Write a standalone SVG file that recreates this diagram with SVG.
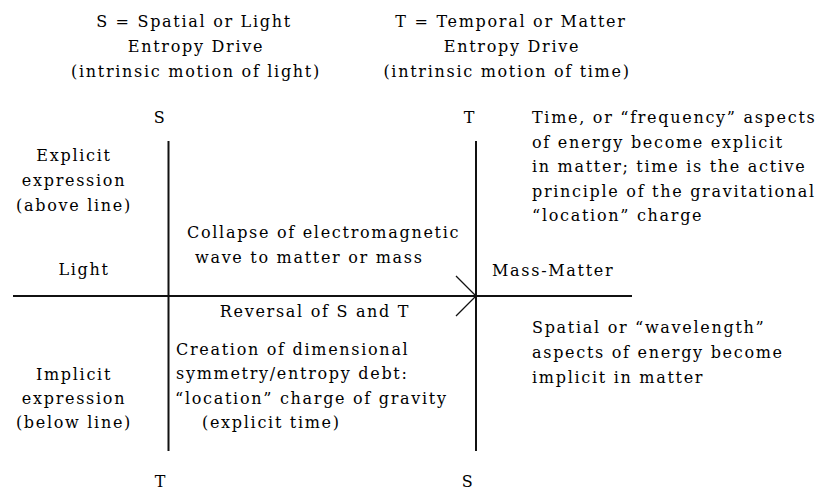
<svg xmlns="http://www.w3.org/2000/svg" width="832" height="491" viewBox="0 0 832 491">
<style>
text{font-family:"DejaVu Serif","Liberation Serif",serif;font-size:16px;letter-spacing:1.7px;fill:#000}
.m{text-anchor:middle}
.ax{stroke:#111;stroke-width:2;fill:none}
.ar{stroke:#111;stroke-width:1.3;fill:none}
</style>
<rect width="832" height="491" fill="#fff"/>
<g id="connectors">
<line class="ax" x1="13" y1="296" x2="632" y2="296"/>
<line class="ax" x1="168.5" y1="141" x2="168.5" y2="451"/>
<line class="ax" x1="476" y1="141" x2="476" y2="451"/>
<polyline class="ar" points="456,276 476,296 456,316"/>
</g>
<g id="header-s">
<text class="m" x="194" y="27">S = Spatial or Light</text>
<text class="m" x="196" y="52">Entropy Drive</text>
<text class="m" x="196" y="77">(intrinsic motion of light)</text>
</g>
<g id="header-t">
<text class="m" x="511" y="27">T = Temporal or Matter</text>
<text class="m" x="512" y="52">Entropy Drive</text>
<text class="m" x="507" y="77">(intrinsic motion of time)</text>
</g>
<g id="label-s-top"><text class="m" x="160" y="123">S</text></g>
<g id="label-t-top"><text class="m" x="470" y="123">T</text></g>
<g id="label-t-bottom"><text class="m" x="161" y="487">T</text></g>
<g id="label-s-bottom"><text class="m" x="468" y="487">S</text></g>
<g id="explicit">
<text class="m" x="74" y="161">Explicit</text>
<text class="m" x="74" y="186">expression</text>
<text class="m" x="74" y="211">(above line)</text>
</g>
<g id="light"><text class="m" x="84" y="275">Light</text></g>
<g id="implicit">
<text class="m" x="74" y="380">Implicit</text>
<text class="m" x="74" y="404">expression</text>
<text class="m" x="74" y="428">(below line)</text>
</g>
<g id="collapse">
<text x="187" y="238">Collapse of electromagnetic</text>
<text x="195" y="263">wave to matter or mass</text>
</g>
<g id="reversal"><text class="m" x="315" y="317">Reversal of S and T</text></g>
<g id="creation">
<text x="176" y="355">Creation of dimensional</text>
<text x="176" y="379">symmetry/entropy debt:</text>
<text x="175" y="404">“location” charge of gravity</text>
<text x="202" y="428">(explicit time)</text>
</g>
<g id="mass-matter"><text x="492" y="276">Mass-Matter</text></g>
<g id="time-note">
<text x="532" y="123">Time, or “frequency” aspects</text>
<text x="532" y="147.5">of energy become explicit</text>
<text x="532" y="172">in matter; time is the active</text>
<text x="532" y="196.5">principle of the gravitational</text>
<text x="532" y="221">“location” charge</text>
</g>
<g id="spatial-note">
<text x="532" y="333">Spatial or “wavelength”</text>
<text x="532" y="358">aspects of energy become</text>
<text x="532" y="383">implicit in matter</text>
</g>
</svg>
